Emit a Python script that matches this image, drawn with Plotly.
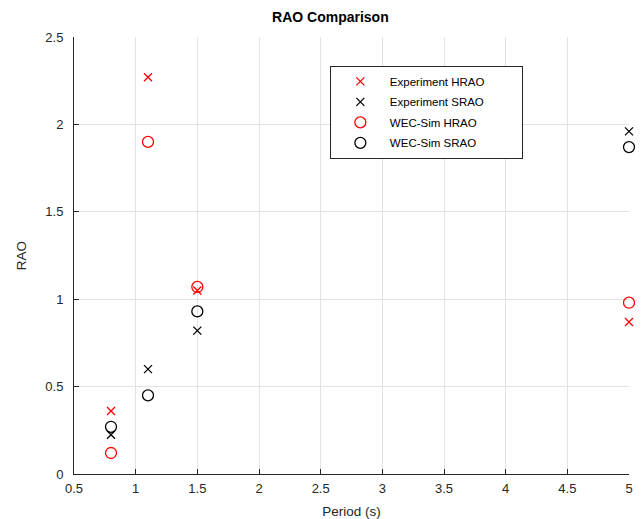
import plotly.graph_objects as go

period = [0.8, 1.1, 1.5, 5.0]
exp_hrao = [0.36, 2.27, 1.05, 0.87]
exp_srao = [0.225, 0.60, 0.82, 1.96]
sim_hrao = [0.12, 1.90, 1.07, 0.98]
sim_srao = [0.27, 0.45, 0.93, 1.87]

x_ticks = [0.5, 1, 1.5, 2, 2.5, 3, 3.5, 4, 4.5, 5]
x_tick_labels = ["0.5", "1", "1.5", "2", "2.5", "3", "3.5", "4", "4.5", "5"]
y_ticks = [0, 0.5, 1, 1.5, 2, 2.5]
y_tick_labels = ["0", "0.5", "1", "1.5", "2", "2.5"]

RED = "#ff0000"
BLK = "#000000"
FONT = "Liberation Sans, Arial, sans-serif"
PAD = "&nbsp;" * 10

fig = go.Figure()
specs = [
    ("Experiment HRAO", exp_hrao, "x-thin-open", 8, RED),
    ("Experiment SRAO", exp_srao, "x-thin-open", 8, BLK),
    ("WEC-Sim HRAO", sim_hrao, "circle-open", 11, RED),
    ("WEC-Sim SRAO", sim_srao, "circle-open", 11, BLK),
]
for i, (name, vals, sym, sz, col) in enumerate(specs):
    fig.add_trace(go.Scatter(
        x=period, y=vals, mode="markers", name=name + (PAD if i == 0 else ""),
        legendgroup=f"g{i}",
        marker=dict(symbol=sym, size=sz, line=dict(color=col, width=1.3), color=col),
        cliponaxis=False))

axis_common = dict(showline=True, linecolor="#262626", linewidth=1, mirror=False,
                   ticks="inside", ticklen=5, tickcolor="#262626",
                   showgrid=True, gridcolor="#e3e3e3", gridwidth=1, zeroline=False,
                   automargin=False,
                   tickfont=dict(family=FONT, size=13, color="#262626"))

fig.update_layout(
    width=644, height=519,
    margin=dict(l=74, r=15, t=37, b=45),
    paper_bgcolor="white", plot_bgcolor="white",
    font=dict(family=FONT, size=13, color="#262626"),
    title=dict(text="<b>RAO Comparison</b>", x=0.513, xanchor="center", y=0.967, yanchor="middle",
               font=dict(family=FONT, size=14, color="#000000")),
    xaxis=dict(range=[0.5, 5], tickvals=x_ticks, ticktext=x_tick_labels,
               ticklabelstandoff=2,
               title=dict(text="Period (s)", font=dict(family=FONT, size=13.5, color="#262626"), standoff=11),
               **axis_common),
    yaxis=dict(range=[0, 2.5], tickvals=y_ticks, ticktext=y_tick_labels,
               ticklabelstandoff=7,
               title=dict(text="RAO", font=dict(family=FONT, size=13.5, color="#262626"), standoff=15),
               **axis_common),
    legend=dict(x=0.461, y=0.934, xanchor="left", yanchor="top",
                bgcolor="white", bordercolor="#262626", borderwidth=1,
                font=dict(family=FONT, size=11.5, color="#000000"),
                itemwidth=49, traceorder="grouped", tracegroupgap=1.5),
    showlegend=True,
)

fig.write_html("out.html")
